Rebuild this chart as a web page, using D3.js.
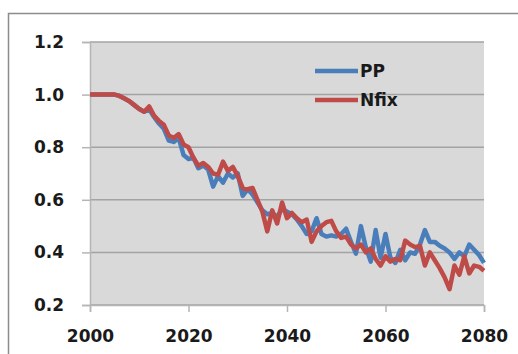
<!DOCTYPE html>
<html><head><meta charset="utf-8">
<script src="https://cdn.jsdelivr.net/npm/d3@7"></script>
<style>body{margin:0;background:#fff;}svg{display:block;}</style>
</head><body>
<script>
const years = d3.range(2000, 2081);
const ppValues = [1,1,1,1,1,1,0.995,0.985,0.975,0.96,0.945,0.935,0.945,0.915,0.89,0.87,0.825,0.82,0.835,0.77,
0.755,0.76,0.72,0.73,0.715,0.65,0.69,0.665,0.70,0.685,0.70,0.615,0.64,0.62,0.59,0.56,0.545,0.55,0.535,0.565,
0.555,0.545,0.525,0.50,0.47,0.48,0.53,0.47,0.46,0.465,0.46,0.47,0.49,0.44,0.395,0.50,0.42,0.365,0.485,0.38,
0.47,0.38,0.36,0.41,0.37,0.40,0.395,0.43,0.485,0.44,0.44,0.425,0.415,0.40,0.375,0.40,0.385,0.43,0.41,0.39,0.36];
const nfixValues = [1,1,1,1,1,1,0.995,0.985,0.975,0.96,0.945,0.935,0.955,0.92,0.90,0.885,0.845,0.835,0.85,0.81,
0.80,0.76,0.73,0.74,0.725,0.70,0.695,0.745,0.71,0.725,0.69,0.645,0.64,0.645,0.60,0.555,0.48,0.56,0.51,0.59,
0.53,0.55,0.53,0.515,0.525,0.44,0.48,0.50,0.515,0.52,0.48,0.455,0.46,0.43,0.415,0.43,0.40,0.415,0.375,0.35,
0.385,0.365,0.375,0.37,0.445,0.43,0.42,0.425,0.35,0.40,0.37,0.34,0.305,0.26,0.35,0.315,0.385,0.32,0.35,0.345,0.33];
const seriesNames = ["PP", "Nfix"];
const seriesColors = ["#4a7ebb", "#be4b48"];
const xTicks = [2000, 2020, 2040, 2060, 2080];
const yTicks = [0.2, 0.4, 0.6, 0.8, 1.0, 1.2];

const W = 518, H = 354;
const svg = d3.select("body").append("svg").attr("width", W).attr("height", H);
svg.append("rect").attr("x", 8.5).attr("y", 13.5).attr("width", 520).attr("height", 360)
  .attr("fill", "#fff").attr("stroke", "#8c8c8c").attr("stroke-width", 1.5);

const mL = 90, mR = 484, mT = 42, mB = 305;
const x = d3.scaleLinear().domain([2000, 2080]).range([mL, mR]);
const y = d3.scaleLinear().domain([0.2, 1.2]).range([mB, mT]);

svg.append("rect").attr("x", mL).attr("y", mT).attr("width", mR - mL).attr("height", mB - mT).attr("fill", "#d9d9d9");

svg.append("g").selectAll("line").data(yTicks).join("line")
  .attr("x1", mL).attr("x2", mR).attr("y1", d => y(d)).attr("y2", d => y(d))
  .attr("stroke", "#a3a3a3").attr("stroke-width", 1.5);

const font = "'DejaVu Sans', sans-serif";
const yAxis = svg.append("g").attr("transform", `translate(${mL},0)`)
  .call(d3.axisLeft(y).tickValues(yTicks).tickFormat(d3.format(".1f")).tickSize(8).tickPadding(18));
const xAxis = svg.append("g").attr("transform", `translate(0,${mB})`)
  .call(d3.axisBottom(x).tickValues(xTicks).tickFormat(d3.format("d")).tickSize(7).tickPadding(18));
[yAxis, xAxis].forEach(a => {
  a.selectAll("path.domain").attr("stroke", "#b5b5b5").attr("stroke-width", 1.5);
  a.selectAll(".tick line").attr("stroke", "#b5b5b5").attr("stroke-width", 1.5);
  a.selectAll("text").attr("font-family", font).attr("font-weight", "bold").attr("font-size", 17).attr("fill", "#1a1a1a");
});

const line = d3.line().x((d, i) => x(years[i])).y(d => y(d));
[ppValues, nfixValues].forEach((vals, k) => {
  svg.append("path").datum(vals).attr("d", line).attr("fill", "none")
    .attr("stroke", seriesColors[k]).attr("stroke-width", 4.5).attr("stroke-linejoin", "round");
});

const lg = svg.append("g");
seriesNames.forEach((n, k) => {
  const ly = 71 + k * 29;
  lg.append("line").attr("x1", 315).attr("x2", 358).attr("y1", ly).attr("y2", ly)
    .attr("stroke", seriesColors[k]).attr("stroke-width", 4.5);
  lg.append("text").attr("x", 360).attr("y", ly).attr("dy", "0.35em").text(n)
    .attr("font-family", font).attr("font-weight", "bold").attr("font-size", 17).attr("fill", "#1a1a1a");
});
</script>
</body></html>
